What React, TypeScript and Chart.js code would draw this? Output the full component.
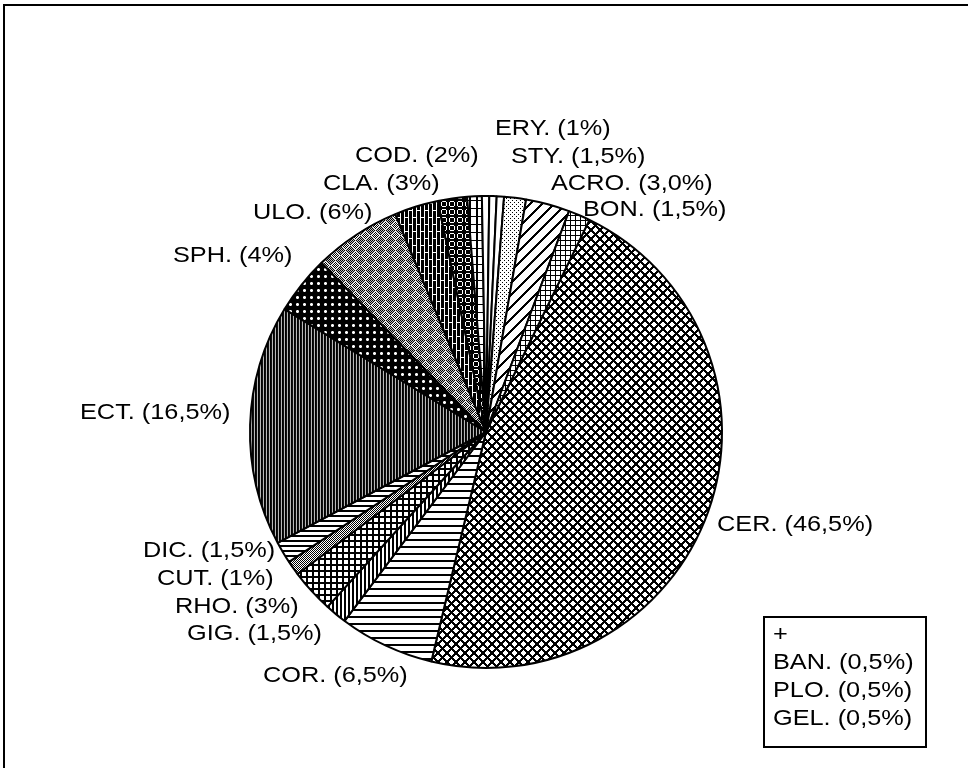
import React, { useEffect, useRef } from "react";
import { Chart, registerables } from "chart.js";
Chart.register(...registerables);

// ---- data (clockwise from the CER slice) ----
const CATEGORIES = ["CER.", "COR.", "GIG.", "RHO.", "CUT.", "DIC.", "ECT.", "SPH.", "ULO.", "CLA.", "COD.", "ERY.", "BAN.", "PLO.", "GEL.", "STY.", "ACRO.", "BON."];
const PERCENTS = [46.5, 6.5, 1.5, 3, 1, 1.5, 16.5, 4, 6, 3, 2, 1, 0.5, 0.5, 0.5, 1.5, 3, 1.5];
const PERCENT_TEXT = ["46,5%", "6,5%", "1,5%", "3%", "1%", "1,5%", "16,5%", "4%", "6%", "3%", "2%", "1%", "0,5%", "0,5%", "0,5%", "1,5%", "3,0%", "1,5%"];
const BOXED = ["BAN.", "PLO.", "GEL."];
const BOX_TITLE = "+";

// ---- layout / style (not data) ----
const START_ROTATION = 26; // degrees clockwise from 12 o'clock
// label anchor: left x and cap-centre y, relative to the pie centre
const LABEL_OFFSETS: Record<string, [number, number]> = {
  "ERY.": [9, -305],
  "STY.": [25, -277],
  "ACRO.": [65, -250],
  "BON.": [97, -224],
  "CER.": [231, 91],
  "COR.": [-223, 242],
  "GIG.": [-299, 200],
  "RHO.": [-311, 173],
  "CUT.": [-329, 145],
  "DIC.": [-343, 117],
  "ECT.": [-406, -21],
  "SPH.": [-313, -178],
  "ULO.": [-233, -221],
  "CLA.": [-163, -250],
  "COD.": [-131, -278],
};
const BOX = { left: 764, top: 617, right: 926, bottom: 747, textX: 773, firstY: 633, lineStep: 28 };
const FONT = '22px "Liberation Sans", Arial, sans-serif';
const SX = 1.15;
const CAP = 15.8;

type PixFn = (x: number, y: number) => string;
function makePattern(ctx: CanvasRenderingContext2D, w: number, h: number, fn: PixFn): CanvasPattern {
  const c = document.createElement("canvas");
  c.width = w;
  c.height = h;
  const g = c.getContext("2d")!;
  for (let y = 0; y < h; y++)
    for (let x = 0; x < w; x++) {
      g.fillStyle = fn(x, y);
      g.fillRect(x, y, 1, 1);
    }
  return ctx.createPattern(c, "repeat")!;
}
const B = "#000000";
const W = "#ffffff";

function buildPatterns(ctx: CanvasRenderingContext2D): Record<string, CanvasPattern | string> {
  return {
    "CER.": makePattern(ctx, 9, 9, (x, y) => ((x + y) % 9 < 3 || (x - y + 9) % 9 < 3 ? B : W)),
    "COR.": makePattern(ctx, 1, 7, (_x, y) => (y < 2 ? B : W)),
    "GIG.": makePattern(ctx, 4, 1, (x) => (x < 2 ? B : W)),
    "RHO.": makePattern(ctx, 6, 6, (x, y) => (x < 2 || y < 2 ? B : W)),
    "CUT.": makePattern(ctx, 2, 2, (x, y) => ((x + y) % 2 === 0 ? B : W)),
    "DIC.": makePattern(ctx, 1, 5, (_x, y) => (y < 2 ? B : W)),
    "ECT.": makePattern(ctx, 3, 1, (x) => (x === 0 ? B : x === 1 ? "#101010" : "#b8b8b8")),
    "SPH.": makePattern(ctx, 7, 7, (x, y) => {
      const dx = Math.abs(x - 3), dy = Math.abs(y - 3);
      if (dx <= 1 && dy <= 1) return dx + dy === 2 ? "#9a9a9a" : W;
      return B;
    }),
    "ULO.": makePattern(ctx, 10, 10, (x, y) => {
      const d = Math.abs(x - 5) + Math.abs(y - 5);
      if (d === 0) return W;
      if (d === 1) return B;
      if (d === 2) return W;
      if (d === 3) return B;
      if (d === 4) return W;
      return (x + y) % 2 === 0 ? B : "#c0c0c0";
    }),
    "CLA.": makePattern(ctx, 8, 14, (x, y) => {
      if (x === 0 || x === 4) return W;
      if (x < 4 && y === 0) return W;
      if (x > 4 && y === 7) return W;
      return B;
    }),
    "COD.": makePattern(ctx, 8, 8, (x, y) => {
      const d = Math.hypot(x - 3.5, y - 3.5);
      return d >= 2.2 && d < 3.3 ? W : B;
    }),
    "ERY.": makePattern(ctx, 7, 8, (x, y) => (x < 2 || y === 0 ? B : W)),
    "BAN.": W,
    "PLO.": W,
    "GEL.": W,
    "STY.": makePattern(ctx, 4, 4, (x, y) => ((x === 0 && y === 0) || (x === 2 && y === 2) ? B : W)),
    "ACRO.": makePattern(ctx, 12, 12, (x, y) => ((x + y) % 12 < 3 ? B : W)),
    "BON.": makePattern(ctx, 5, 5, (x, y) => (x === 0 || y === 0 ? B : W)),
  };
}

function drawText(ctx: CanvasRenderingContext2D, text: string, x: number, yc: number) {
  ctx.save();
  ctx.translate(x, yc + CAP / 2);
  ctx.scale(SX, 1);
  ctx.fillText(text, 0, 0);
  ctx.restore();
}

const decorPlugin = {
  id: "decor",
  beforeDraw(chart: any) {
    const ctx = chart.ctx as CanvasRenderingContext2D;
    ctx.save();
    ctx.fillStyle = "#fff";
    ctx.fillRect(0, 0, chart.width, chart.height);
    ctx.restore();
  },
  afterDraw(chart: any) {
    const ctx = chart.ctx as CanvasRenderingContext2D;
    const arc = chart.getDatasetMeta(0).data[0];
    const cx = arc.x, cy = arc.y;
    ctx.save();
    // frame
    ctx.strokeStyle = "#000";
    ctx.lineWidth = 2;
    ctx.strokeRect(4, 5, chart.width + 10, chart.height + 20);
    ctx.fillStyle = "#000";
    ctx.font = FONT;
    ctx.textBaseline = "alphabetic";
    CATEGORIES.forEach((cat, i) => {
      const off = LABEL_OFFSETS[cat];
      if (!off) return;
      drawText(ctx, `${cat} (${PERCENT_TEXT[i]})`, cx + off[0], cy + off[1]);
    });
    // box for the smallest slices
    ctx.lineWidth = 2;
    ctx.strokeRect(BOX.left, BOX.top, BOX.right - BOX.left, BOX.bottom - BOX.top);
    drawText(ctx, BOX_TITLE, BOX.textX, BOX.firstY);
    BOXED.forEach((cat, k) => {
      const i = CATEGORIES.indexOf(cat);
      drawText(ctx, `${cat} (${PERCENT_TEXT[i]})`, BOX.textX, BOX.firstY + (k + 1) * BOX.lineStep);
    });
    ctx.restore();
  },
};

export default function App() {
  const ref = useRef<HTMLCanvasElement | null>(null);
  useEffect(() => {
    const canvas = ref.current!;
    const ctx = canvas.getContext("2d")!;
    const pats = buildPatterns(ctx);
    const chart = new Chart(canvas, {
      type: "pie",
      data: {
        labels: CATEGORIES,
        datasets: [
          {
            data: PERCENTS,
            backgroundColor: CATEGORIES.map((c) => pats[c]) as any,
            borderColor: "#000",
            borderWidth: 2,
          },
        ],
      },
      options: {
        responsive: false,
        animation: false,
        devicePixelRatio: 1,
        rotation: START_ROTATION,
        layout: { padding: { left: 249, right: 245, top: 195, bottom: 99 } },
        plugins: { legend: { display: false }, tooltip: { enabled: false } },
        events: [],
      },
      plugins: [decorPlugin],
    });
    return () => chart.destroy();
  }, []);
  return (
    <div style={{ position: "absolute", left: 0, top: 0, width: 968, height: 768, background: "#fff" }}>
      <canvas ref={ref} width={968} height={768} style={{ display: "block" }} />
    </div>
  );
}
